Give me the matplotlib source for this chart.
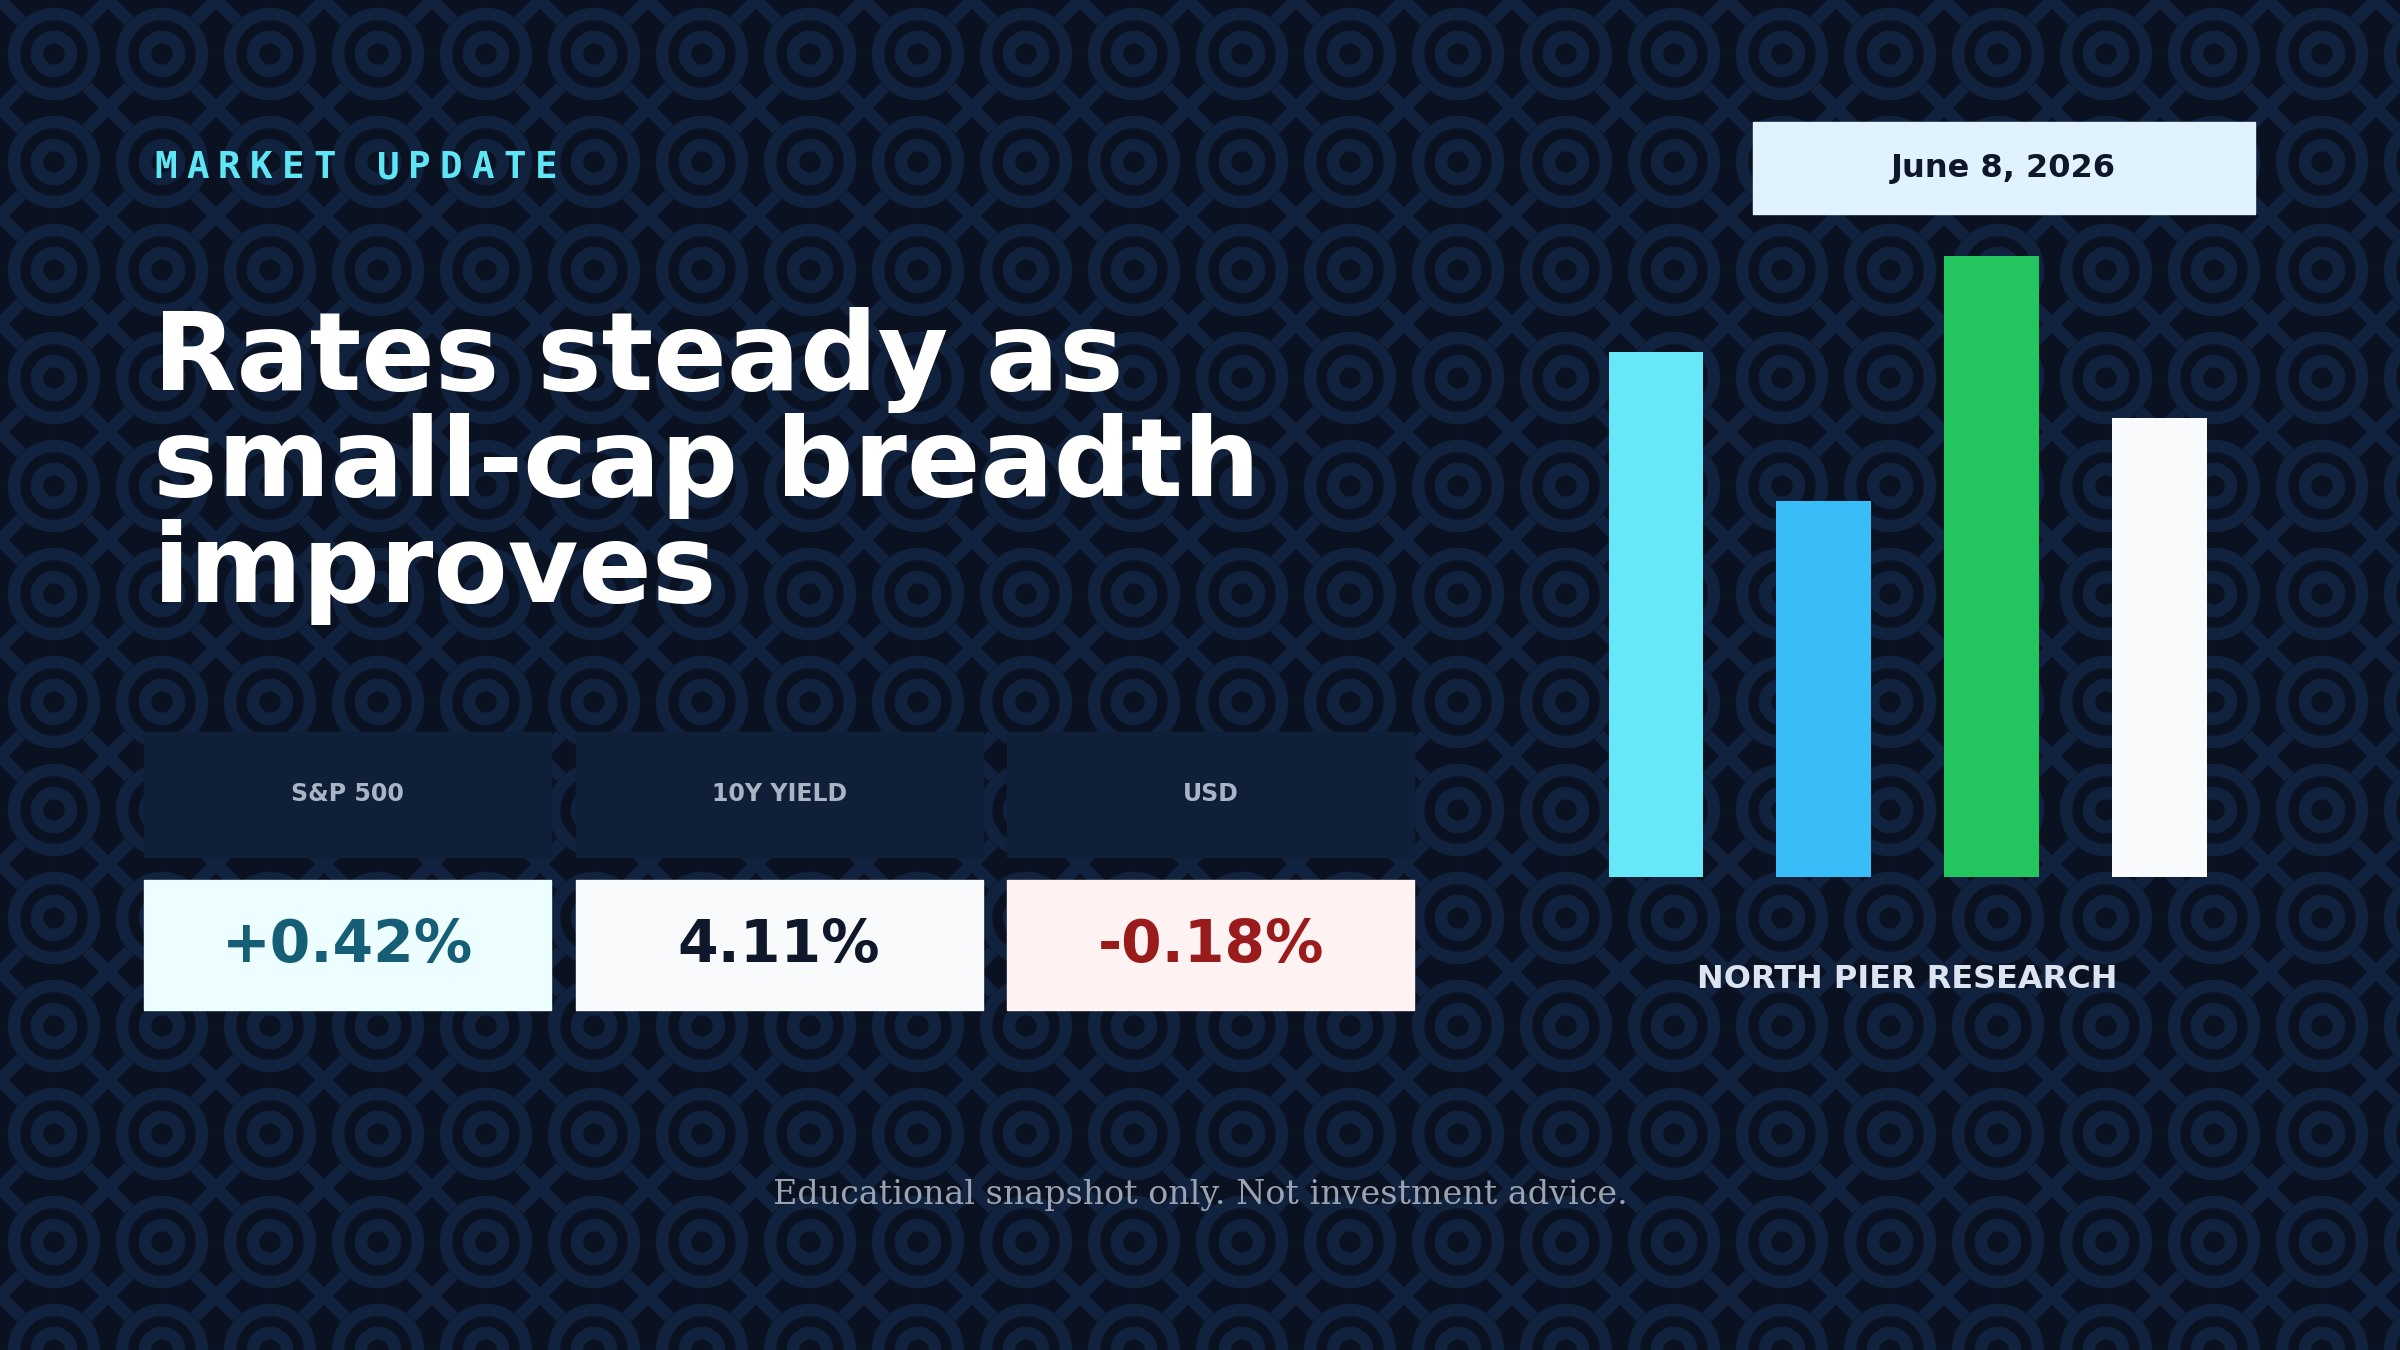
import matplotlib
matplotlib.use("Agg")
import matplotlib.pyplot as plt
import numpy as np
from matplotlib.patches import Rectangle, Circle

# data
bar_values = [343, 246, 406, 300]
bar_colors = ["#67e8f9", "#38bdf8", "#22c55e", "#f8fafc"]
card_labels = ["S&P 500", "10Y YIELD", "USD"]
card_values = ["+0.42%", "4.11%", "-0.18%"]
card_bg = ["#ecfeff", "#f8fafc", "#fef2f2"]
card_fg = ["#155e75", "#0f172a", "#991b1b"]
title_lines = ["Rates steady as", "small-cap breadth", "improves"]
kicker = "MARKET UPDATE"
date_text = "June 8, 2026"

S = 2400 / 1568
BG = "#0a1222"
PAT = "#10223d"

fig = plt.figure(figsize=(24, 13.5), dpi=100)
fig.patch.set_facecolor(BG)
ax = fig.add_axes([0, 0, 1, 1])
ax.set_xlim(0, 2400); ax.set_ylim(1350, 0); ax.axis("off")
ax.set_facecolor(BG)

# pattern
step = 108
for k in range(-30, 60):
    c = k * step
    ax.plot([c - 1400, c + 1400], [-1400, 1400], color=PAT, lw=9, zorder=0)
    ax.plot([c - 1400, c + 1400], [1400, -1400], color=PAT, lw=9, zorder=0)
for i in range(24):
    for j in range(14):
        cx, cy = 54 + i * step, 54 + j * step
        ax.add_patch(Circle((cx, cy), 46, color=BG, zorder=0.5))
        ax.add_patch(Circle((cx, cy), 40, fill=False, ec=PAT, lw=9, zorder=0.6))
        ax.add_patch(Circle((cx, cy), 17, fill=False, ec=PAT, lw=9, zorder=0.6))

def p(x):
    return x * S

pitch = (362 - 101) / 12.6
for i, ch in enumerate(kicker):
    ax.text(p(101 + i * pitch), p(110), ch, color="#5ee6f5", fontsize=27,
            family="DejaVu Sans Mono", fontweight="bold", va="center", ha="left", zorder=5)
for i, line in enumerate(title_lines):
    ax.text(p(100), p(255 + 69 * i), line, color="white", fontsize=78,
            fontweight="heavy", family="DejaVu Sans", va="baseline", ha="left", zorder=5)

xs = [94, 376, 658]
for i in range(3):
    ax.add_patch(Rectangle((p(xs[i]), p(478)), p(266), p(82), color="#0f1f38", zorder=4))
    ax.text(p(xs[i] + 133), p(519), card_labels[i], color="#a9b4c4", fontsize=17,
            fontweight="bold", ha="center", va="center", zorder=5)
    ax.add_patch(Rectangle((p(xs[i]), p(575)), p(266), p(85), color=card_bg[i], zorder=4))
    ax.text(p(xs[i] + 133), p(618), card_values[i], color=card_fg[i], fontsize=42,
            fontweight="bold", ha="center", va="center", zorder=5)

ax.add_patch(Rectangle((p(1145), p(80)), p(328), p(60), color="#e0f2fe", zorder=4))
ax.text(p(1309), p(110), date_text, color="#0f172a", fontsize=23, fontweight="bold",
        ha="center", va="center", zorder=5)
ax.text(p(1246), p(640), "NORTH PIER RESEARCH", color="#dbe4f0", fontsize=23,
        fontweight="bold", ha="center", va="center", zorder=5)
ax.text(p(784), p(781), "Educational snapshot only. Not investment advice.", color="#9aa3b2",
        fontsize=24, family="DejaVu Serif", ha="center", va="center", zorder=5)

# bar chart
left, right, bottom, top = p(1040), p(1453), p(573), p(167)
bax = fig.add_axes([left / 2400, 1 - bottom / 1350, (right - left) / 2400, (bottom - top) / 1350])
bax.patch.set_alpha(0)
bax.bar(np.arange(4), bar_values, width=0.565, color=bar_colors)
bax.set_xlim(-0.382, 3.382)
bax.set_ylim(0, 406)
bax.axis("off")

fig.savefig("out.png", dpi=100, facecolor=BG)
